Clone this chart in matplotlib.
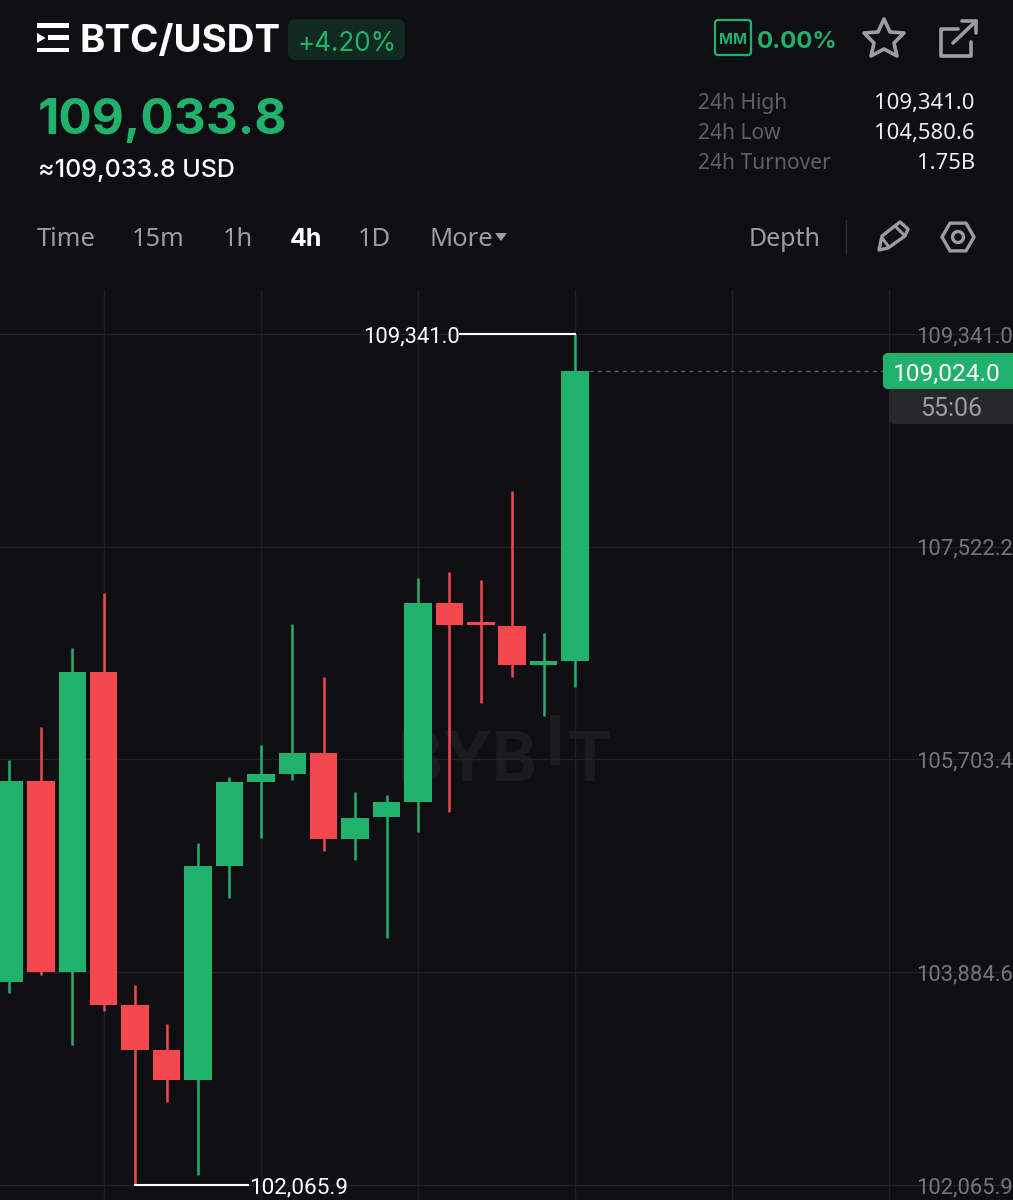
import matplotlib
matplotlib.use("Agg")
import matplotlib.pyplot as plt
from matplotlib.patches import FancyBboxPatch, Polygon, Circle, Rectangle, RegularPolygon

# candles (oldest first)
opens = [103801, 105520, 103887, 106451, 103605, 103220, 102963, 104793, 105511, 105579,
         105759, 105024, 105212, 105340, 107041, 106879, 106845, 106511, 106546]
highs = [105699, 105981, 106657, 107127, 103776, 103442, 104990, 105554, 105827, 106862,
         106409, 105426, 105400, 107255, 107306, 107238, 107999, 106785, 109341]
lows = [103707, 103861, 103263, 103553, 102066, 102775, 102151, 104519, 105032, 105528,
        104921, 104844, 104177, 105084, 105255, 106186, 106409, 106075, 106323]
closes = [105520, 103887, 106451, 103605, 103220, 102963, 104793, 105511, 105579, 105759,
          105024, 105203, 105340, 107041, 106853, 106857, 106511, 106546, 109024]

price_ticks = [109341.0, 107522.2, 105703.4, 103884.6, 102065.9]
time_grid = [3, 8, 13, 18, 23, 28]

high_label = "109,341.0"
low_label = "102,065.9"
last_label = "109,024.0"
countdown = "55:06"
tabs = [("Time", 37, False), ("15m", 132, False), ("1h", 223, False), ("4h", 290, True),
        ("1D", 358, False), ("More", 430, False)]
stats = [("24h High", "109,341.0"), ("24h Low", "104,580.6"), ("24h Turnover", "1.75B")]

BG = "#0f0f13"
GREEN = "#20b26c"
RED = "#f4474e"
GRID = "#202125"
GREY = "#9b9da3"
DIM = "#5e6066"
AXIS = "#74767b"
W, H = 1013, 1200
FONT = "Inter"
BODY = "Noto Sans"


def px(size):
    return size * 0.72


fig = plt.figure(figsize=(W / 100, H / 100), dpi=100, facecolor=BG)

# watermark goes under the chart, so it has its own axes in pixels
wm_ax = fig.add_axes([0, 0, 1, 1], facecolor="none", zorder=0)
wm_ax.set_xlim(0, W)
wm_ax.set_ylim(H, 0)
wm_ax.axis("off")
wm = "#1a1b1f"
wm_ax.text(537, 781, "BYB", color=wm, fontsize=px(68), weight="bold", family=FONT, ha="right", va="baseline")
wm_ax.add_patch(Rectangle((550, 715), 10, 50, color=wm, lw=0))
wm_ax.text(589, 781, "T", color=wm, fontsize=px(68), weight="bold", family=FONT, ha="center", va="baseline")

# chart, takes everything under the toolbar
ax = fig.add_axes([0, 0, 1, 910 / H], facecolor="none", zorder=1)
ax.set_xlim(-0.302, 31.94)
ax.set_ylim(101937.6, 109717)
for s in ax.spines.values():
    s.set_visible(False)
ax.set_axisbelow(True)
ax.set_xticks(time_grid)
ax.set_xticklabels([])
ax.yaxis.tick_right()
ax.set_yticks(price_ticks)
ax.set_yticklabels([f"{p:,.1f}" for p in price_ticks], family="Roboto", fontsize=px(22),
                   color=AXIS, ha="right", va="center_baseline")
ax.tick_params(length=0, pad=0)
ax.grid(True, color=GRID, lw=1)

idx = list(range(len(opens)))
colors = [GREEN if c >= o else RED for o, c in zip(opens, closes)]
ax.vlines(idx, lows, highs, colors=colors, lw=1.8, zorder=3)
ax.bar(idx, [abs(c - o) for o, c in zip(opens, closes)],
       bottom=[min(o, c) for o, c in zip(opens, closes)],
       width=0.875, color=colors, lw=0, zorder=4)

# high / low markers
hi = highs.index(max(highs))
lo = lows.index(min(lows))
ax.plot([hi - 3.66, hi], [highs[hi], highs[hi]], color="white", lw=1.5, zorder=5)
ax.text(hi - 3.68, highs[hi], high_label, color="white", family="Roboto", fontsize=px(22),
        ha="right", va="center_baseline", zorder=5)
ax.plot([lo, lo + 3.6], [lows[lo], lows[lo]], color="white", lw=1.5, zorder=5)
ax.text(lo + 3.62, lows[lo], low_label, color="white", family="Roboto", fontsize=px(22.5),
        ha="left", va="center_baseline", zorder=5)

# last price line
ax.plot([18.45, 27.8], [closes[-1], closes[-1]], color="#5c5e63", lw=1, ls=(0, (3, 3)), zorder=2)

# overlay in pixels for header and tags
ov = fig.add_axes([0, 0, 1, 1], facecolor="none", zorder=5)
ov.set_xlim(0, W)
ov.set_ylim(H, 0)
ov.axis("off")


def txt(x, y, s, size, color="white", ha="left", weight="normal", family=FONT):
    ov.text(x, y, s, fontsize=px(size), color=color, ha=ha, va="center_baseline", weight=weight, family=family)


def box(x, y, w, h, r, **kw):
    ov.add_patch(FancyBboxPatch((x + r, y + r), w - 2 * r, h - 2 * r,
                                boxstyle=f"round,pad={r},rounding_size={r}", **kw))


# price tags
box(883, 353, 140, 36, 5, fc=GREEN, ec="none")
txt(947, 372, last_label, 24.5, ha="center", family="Roboto")
box(889, 389, 134, 35, 5, fc="#26282c", ec="none")
txt(951, 406, countdown, 25, color=GREY, ha="center", family="Roboto")

# header, left
for y0, y1 in ((23, 28), (47.5, 52)):
    ov.add_patch(Rectangle((37, y0), 32, y1 - y0, color="white", lw=0))
ov.add_patch(Rectangle((48, 35), 21, 5, color="white", lw=0))
ov.add_patch(Polygon([(37, 33), (45.5, 38), (37, 43)], color="white", lw=0))
txt(80, 38, "BTC/USDT", 38.5, weight="bold")
box(288, 19, 117, 41, 8, fc="#12291f", ec="none")
txt(298, 41, "+4.20%", 26, color=GREEN)
txt(38, 116, "109,033.8", 49.5, color=GREEN, weight="bold")
txt(38, 168, "≈109,033.8 USD", 25, weight="medium")

for label, x, active in tabs:
    if active:
        txt(x, 237, label, 25, weight="bold")
    else:
        txt(x, 237, label, 25.5, color=GREY, family=BODY)
ov.add_patch(Polygon([(495, 233), (507, 233), (501, 241)], color=GREY, lw=0))

# header, right
box(715, 20, 36, 35, 3, fc="none", ec=GREEN, lw=1.6)
txt(733, 38, "MM", 15, color=GREEN, ha="center", weight="bold")
txt(757, 39, "0.00%", 24, color=GREEN, weight="bold")

star = [(884, 19), (890, 32), (904, 33), (894, 43), (897, 56), (884, 49), (871, 56), (874, 43), (864, 33), (878, 32)]
ov.add_patch(Polygon(star, closed=True, fc="none", ec=GREY, lw=2.6, joinstyle="round"))

# share icon
ov.plot([958, 941, 941, 971, 971], [29, 29, 56, 56, 42], color=GREY, lw=2.6, solid_capstyle="round", solid_joinstyle="round")
ov.plot([953, 976], [43, 21], color=GREY, lw=2.6, solid_capstyle="round")
ov.plot([962, 976, 976], [21, 21, 33], color=GREY, lw=2.6, solid_capstyle="round", solid_joinstyle="round")

for (label, value), y in zip(stats, (101, 131, 161)):
    txt(698, y, label, 21, color=DIM, family=BODY)
    txt(975, y, value, 22, color="#eeeeee", ha="right", family=BODY)

txt(749, 237, "Depth", 25, color=GREY, family=BODY)
ov.plot([846, 846], [220, 254], color="#2b2c30", lw=1)

# pencil
pencil = [(879, 250), (882, 236), (900, 222), (908, 229), (905, 236), (888, 248)]
ov.add_patch(Polygon(pencil, closed=True, fc="none", ec=GREY, lw=2.4, joinstyle="round"))
ov.plot([882, 889], [238, 247], color=GREY, lw=2.2)
ov.plot([896, 904], [227, 235], color=GREY, lw=2.2)

# settings hexagon
ov.add_patch(RegularPolygon((958, 237), 6, radius=16, orientation=3.14159 / 2, fc="none", ec=GREY, lw=2.4))
ov.add_patch(Circle((958, 237), 5.5, fc="none", ec=GREY, lw=2.4))

fig.savefig("out.png", dpi=100, facecolor=BG)
